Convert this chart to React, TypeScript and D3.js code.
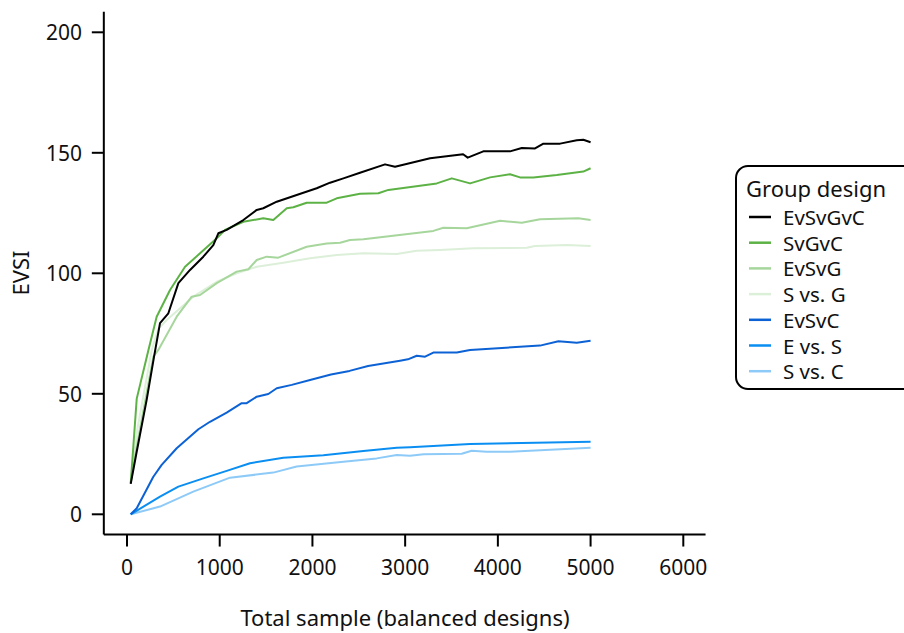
import React from "react";
import * as d3 from "d3";

const xTicks = [0, 1000, 2000, 3000, 4000, 5000, 6000];
const yTicks = [0, 50, 100, 150, 200];

const seriesNames = ["EvSvGvC", "SvGvC", "EvSvG", "S vs. G", "EvSvC", "E vs. S", "S vs. C"];
const seriesColors = ["#000000", "#5db246", "#a6d69c", "#dcefd8", "#0c62d4", "#0a8ef2", "#8dcaf8"];

const nEvSvGvC = [40, 100, 212, 290, 356, 446, 554, 680, 823, 931, 985, 1075, 1255, 1399, 1470, 1615, 1830, 2046, 2190, 2334, 2513, 2783, 2891, 3269, 3625, 3675, 3843, 4131, 4258, 4401, 4491, 4671, 4851, 4922, 5000];
const vEvSvGvC = [12.6, 25, 47.5, 65, 79.3, 83.4, 95.9, 101.4, 106.9, 111.7, 116.6, 118, 122.1, 126.3, 127, 129.7, 132.5, 135.3, 137.6, 139.4, 141.7, 145.2, 144.2, 147.7, 149.4, 148, 150.6, 150.6, 152, 151.8, 153.8, 153.8, 155.2, 155.4, 154.4];

const nSvGvC = [40, 105, 230, 320, 464, 626, 788, 968, 1057, 1255, 1470, 1578, 1723, 1794, 1938, 2154, 2262, 2513, 2711, 2819, 3341, 3503, 3700, 3916, 4131, 4239, 4383, 4635, 4922, 5000];
const vSvGvC = [12.9, 48, 68, 82, 93.1, 102.7, 108.3, 114.5, 118, 121.4, 122.8, 122.1, 127, 127.4, 129.3, 129.3, 131.1, 133, 133.2, 134.6, 137.3, 139.4, 137.3, 139.8, 141.1, 139.8, 139.8, 140.8, 142.2, 143.6];

const nEvSvG = [40, 100, 200, 284, 338, 536, 698, 788, 968, 1183, 1309, 1399, 1507, 1632, 1938, 2154, 2298, 2406, 2549, 3304, 3412, 3664, 4024, 4258, 4455, 4868, 5000];
const vEvSvG = [13, 27, 48, 65.4, 68.2, 82, 90.3, 91, 95.9, 100.7, 101.7, 105.5, 106.9, 106.5, 111, 112.4, 112.7, 113.8, 114.1, 117.6, 118.9, 118.7, 121.8, 121, 122.4, 122.8, 122.1];

const nSvsG = [40, 110, 266, 338, 428, 715, 968, 1183, 1399, 1686, 1974, 2262, 2549, 2909, 3125, 3376, 3736, 4312, 4400, 4743, 5000];
const vSvsG = [13, 35, 68, 77, 80.6, 90.3, 96.5, 100, 102.7, 104.4, 106.2, 107.6, 108.3, 108, 109.4, 109.7, 110.4, 110.6, 111.3, 111.7, 111.3];

const nEvSvC = [40, 105, 284, 374, 536, 770, 895, 1075, 1237, 1291, 1399, 1524, 1615, 1777, 1974, 2200, 2400, 2600, 2945, 3030, 3125, 3215, 3304, 3557, 3700, 4455, 4653, 4851, 5000];
const vEvSvC = [0, 2.5, 15.6, 20.5, 27.4, 35.3, 38.4, 42.2, 46.1, 46.1, 48.8, 49.9, 52.3, 53.7, 55.7, 58, 59.5, 61.5, 63.7, 64.3, 65.8, 65.4, 67.1, 67.1, 68.2, 70, 71.8, 71.2, 72];

const nEvsS = [40, 356, 554, 823, 1075, 1327, 1686, 2118, 2549, 2909, 3053, 3700, 5000];
const vEvsS = [0, 7.3, 11.5, 14.9, 18, 21.2, 23.5, 24.5, 26.3, 27.6, 27.8, 29.2, 30.1];

const nSvsC = [40, 356, 715, 1111, 1578, 1830, 2334, 2693, 2909, 3053, 3200, 3610, 3718, 3880, 4131, 5000];
const vSvsC = [0, 3.2, 9.4, 15.2, 17.3, 19.8, 21.8, 23.2, 24.6, 24.3, 24.9, 25.1, 26.4, 26, 26, 27.6];

const seriesN = [nEvSvGvC, nSvGvC, nEvSvG, nSvsG, nEvSvC, nEvsS, nSvsC];
const seriesV = [vEvSvGvC, vSvGvC, vEvSvG, vSvsG, vEvSvC, vEvsS, vSvsC];

const FONT = "'Noto Sans', sans-serif";

export default function App() {
  const x = d3.scaleLinear().domain([0, 6000]).range([127, 683.3]);
  const y = d3.scaleLinear().domain([0, 200]).range([514.3, 32.3]);
  const xMin = x(-250), xMax = x(6240);
  const yBot = y(-8.4), yTop = y(208.5);
  const line = d3.line<[number, number]>().x((d) => x(d[0])).y((d) => y(d[1]));
  const order = [6, 5, 4, 3, 2, 1, 0];
  const legX = 736, legY = 166, legRowY = 217, legStep = 25.7;

  return (
    <svg width={904} height={633} style={{ position: "absolute", left: 0, top: 0, background: "#fff" }} fontFamily={FONT}>
      <line x1={xMin} x2={xMax} y1={yBot} y2={yBot} stroke="#000" strokeWidth={2} />
      <line x1={xMin} x2={xMin} y1={yTop} y2={yBot} stroke="#000" strokeWidth={2} />
      {xTicks.map((t) => (
        <g key={"x" + t}>
          <line x1={x(t)} x2={x(t)} y1={yBot} y2={yBot + 12} stroke="#000" strokeWidth={2} />
          <text x={x(t)} y={575} textAnchor="middle" fontSize={21} fill="#111">{t}</text>
        </g>
      ))}
      {yTicks.map((t) => (
        <g key={"y" + t}>
          <line x1={xMin - 12} x2={xMin} y1={y(t)} y2={y(t)} stroke="#000" strokeWidth={2} />
          <text x={82} y={y(t)} textAnchor="end" dominantBaseline="central" fontSize={21} fill="#111">{t}</text>
        </g>
      ))}
      <text x={405} y={626} textAnchor="middle" fontSize={22} fill="#111">Total sample (balanced designs)</text>
      <text transform="translate(29,273) rotate(-90)" textAnchor="middle" fontSize={22} fill="#111">EVSI</text>

      {order.map((i) => (
        <path
          key={seriesNames[i]}
          d={line(seriesN[i].map((n, k) => [n, seriesV[i][k]] as [number, number])) || ""}
          fill="none"
          stroke={seriesColors[i]}
          strokeWidth={2}
          strokeLinejoin="round"
        />
      ))}

      <rect x={legX} y={legY} width={185} height={223} rx={12} ry={12} fill="#fff" stroke="#000" strokeWidth={2} />
      <text x={746} y={197} fontSize={22} fill="#111">Group design</text>
      {seriesNames.map((name, i) => (
        <g key={"leg" + name}>
          <line x1={749} x2={771} y1={legRowY + i * legStep} y2={legRowY + i * legStep} stroke={seriesColors[i]} strokeWidth={2.5} />
          <text x={783} y={legRowY + i * legStep} dominantBaseline="central" fontSize={20.5} fill="#111">{name}</text>
        </g>
      ))}
    </svg>
  );
}
